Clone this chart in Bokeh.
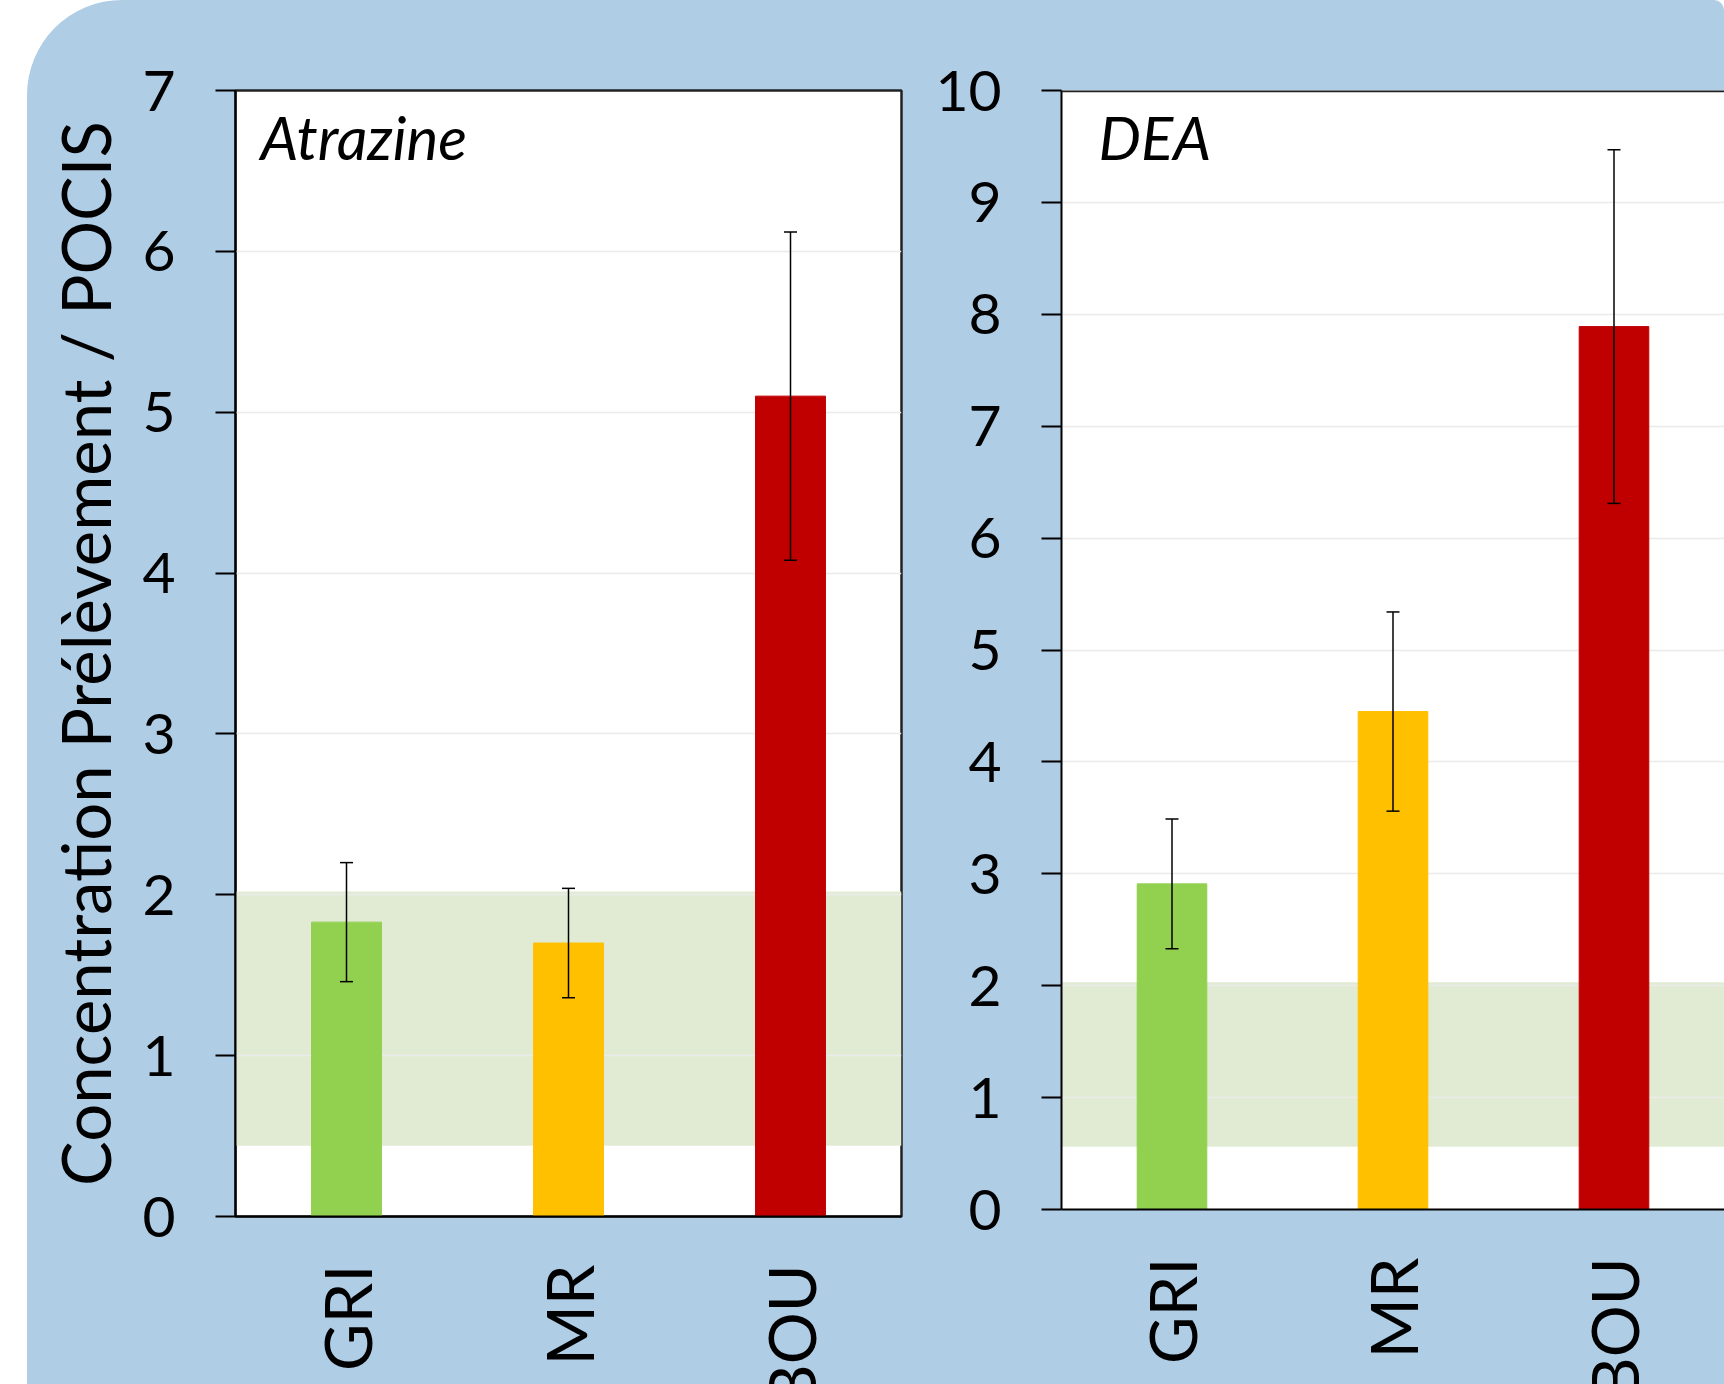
import math

from bokeh.embed import file_html
from bokeh.layouts import row
from bokeh.models import (BoxAnnotation, ColumnDataSource, FactorRange, Label,
                          Range1d, SingleIntervalTicker, Span, TeeHead, Whisker)
from bokeh.plotting import figure
from bokeh.resources import INLINE

# ---- data -------------------------------------------------------------
sites = ["GRI", "MR", "BOU"]
site_colors = ["#92D050", "#FFC000", "#C00000"]

atrazine_mean = [1.83, 1.70, 5.10]
atrazine_err = [0.37, 0.34, 1.02]

dea_mean = [2.91, 4.45, 7.89]
dea_err = [0.58, 0.89, 1.58]

# shaded range of agreement between grab sampling and POCIS
atrazine_band = [0.44, 2.02]
dea_band = [0.56, 2.03]

y_title = "Concentration Prélèvement / POCIS"

FONT = "Lato"
PANEL_BG = "#B0CDE6"
BAND_COLOR = "#E1EBD3"
FRAME_LINE = "#222222"


def make_panel(name, means, errs, ymax, band, frame_w, frame_h,
               left, right, top, with_label, name_dx, open_right=False):
    src = ColumnDataSource(dict(
        site=sites,
        mean=means,
        color=site_colors,
        upper=[m + e for m, e in zip(means, errs)],
        lower=[m - e for m, e in zip(means, errs)],
    ))

    p = figure(x_range=FactorRange(*sites), y_range=Range1d(0, ymax),
               frame_width=frame_w, frame_height=frame_h,
               min_border_left=left, min_border_right=right,
               min_border_top=top, min_border_bottom=0,
               output_backend="svg", toolbar_location=None,
               background_fill_color="white", border_fill_color=None,
               outline_line_color=None if open_right else FRAME_LINE,
               outline_line_width=2.5)

    p.add_layout(BoxAnnotation(bottom=band[0], top=band[1],
                               fill_color=BAND_COLOR, fill_alpha=1.0,
                               line_color=None, level="image"))

    p.vbar(x="site", top="mean", width=0.315, color="color", source=src)

    p.add_layout(Whisker(base="site", upper="upper", lower="lower", source=src,
                         line_color="black", line_width=1.5, level="annotation",
                         upper_head=TeeHead(size=13, line_width=1.5, line_color="black"),
                         lower_head=TeeHead(size=13, line_width=1.5, line_color="black")))

    if open_right:
        # panel continues past the page edge: only a top rule, no right side
        p.add_layout(Span(location=ymax, dimension="width", line_color=FRAME_LINE,
                          line_width=3.5, level="overlay"))

    p.add_layout(Label(x=name_dx, y=frame_h - 46, x_units="screen", y_units="screen",
                       text=name, text_font=FONT, text_font_style="italic",
                       text_font_size="60px", text_color="black",
                       text_baseline="alphabetic", text_align="left"))

    # y axis
    yax = p.left[0]
    yax.ticker = SingleIntervalTicker(interval=1, num_minor_ticks=0)
    yax.axis_line_color = "black"
    yax.axis_line_width = 2
    yax.major_tick_line_color = "black"
    yax.major_tick_line_width = 2
    yax.major_tick_out = 20
    yax.major_tick_in = 0
    yax.minor_tick_line_color = None
    yax.major_label_text_font = FONT
    yax.major_label_text_font_size = "57px"
    yax.major_label_text_color = "black"
    yax.major_label_standoff = 40
    if with_label:
        yax.axis_label = y_title
        yax.axis_label_text_font = FONT
        yax.axis_label_text_font_size = "67px"
        yax.axis_label_text_font_style = "normal"
        yax.axis_label_text_color = "black"
        yax.axis_label_standoff = 14

    # x axis (site names, reading upwards)
    xax = p.below[0]
    xax.axis_line_color = "black"
    xax.axis_line_width = 2
    xax.major_tick_line_color = None
    xax.major_tick_out = 0
    xax.major_tick_in = 0
    xax.minor_tick_line_color = None
    xax.major_label_orientation = math.pi / 2
    xax.major_label_text_font = FONT
    xax.major_label_text_font_size = "65px"
    xax.major_label_text_color = "black"
    xax.major_label_standoff = 48

    p.xgrid.grid_line_color = None
    p.ygrid.grid_line_color = "#EBEBEB"
    p.ygrid.grid_line_width = 1.5
    return p


p1 = make_panel("Atrazine", atrazine_mean, atrazine_err, 7, atrazine_band,
                frame_w=666, frame_h=1126, left=208, right=10, top=90,
                with_label=True, name_dx=25)
p2 = make_panel("DEA", dea_mean, dea_err, 10, dea_band,
                frame_w=663, frame_h=1119, left=150, right=0, top=88,
                with_label=False, name_dx=37, open_right=True)

# the panel runs past the bottom edge of the page and is cut there
layout = row(p1, p2, margin=(0, 0, 0, 27),
             styles={"background-color": PANEL_BG,
                     "border-radius": "95px 10px 0 0",
                     "overflow": "hidden",
                     "max-width": "1697px",
                     "max-height": "1384px"})

open("out.html", "w").write(file_html(layout, INLINE))
